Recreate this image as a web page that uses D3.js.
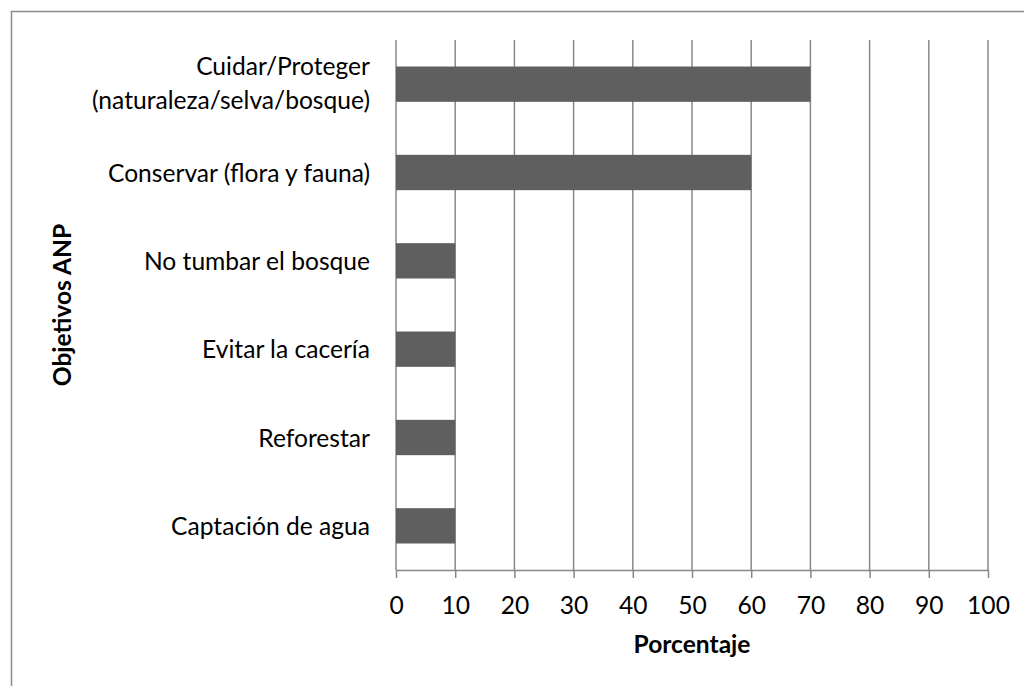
<!DOCTYPE html>
<html><head><meta charset="utf-8">
<script src="https://cdn.jsdelivr.net/npm/d3@7"></script>
<style>html,body{margin:0;padding:0;background:#fff;} svg{display:block;}</style>
</head><body>
<svg id="c" width="1024" height="686"></svg>
<script>
const categories = [
  ["Cuidar/Proteger", "(naturaleza/selva/bosque)"],
  ["Conservar (flora y fauna)"],
  ["No tumbar el bosque"],
  ["Evitar la cacería"],
  ["Reforestar"],
  ["Captación de agua"]
];
const values = [70, 60, 10, 10, 10, 10];
const xTicks = [0, 10, 20, 30, 40, 50, 60, 70, 80, 90, 100];
const xTitle = "Porcentaje";
const yTitle = "Objetivos ANP";

const FONT = "Lato, 'Open Sans', sans-serif";
const svg = d3.select("#c");

function fitSize(text, target, weight) {
  const t = svg.append("text").attr("font-family", FONT).attr("font-weight", weight||"normal")
    .attr("font-size", 100).text(text);
  const w = t.node().getComputedTextLength();
  t.remove();
  return 100 * target / w;
}
const fs = fitSize("Captación de agua", 199);
const fsB = fitSize("Porcentaje", 117, "bold");

// outer frame
svg.append("path").attr("d", "M11.5,700 L11.5,11.5 L1030,11.5")
  .attr("fill", "none").attr("stroke", "#8c8c8c").attr("stroke-width", 1.5);

const x = d3.scaleLinear().domain([0, 100]).range([396, 988]);
const y = d3.scaleBand().domain(d3.range(categories.length)).range([40, 570])
  .paddingInner(0.6).paddingOuter(0.3);

const gridColor = "#888888";
svg.append("g").selectAll("line").data(xTicks).join("line")
  .attr("x1", d => x(d)).attr("x2", d => x(d))
  .attr("y1", 40).attr("y2", 570)
  .attr("stroke", gridColor).attr("stroke-width", 1.5);

svg.append("g").selectAll("rect").data(values).join("rect")
  .attr("x", x(0)).attr("y", (d, i) => y(i))
  .attr("width", d => x(d) - x(0)).attr("height", y.bandwidth())
  .attr("fill", "#5f5f5f");

const xAxis = d3.axisBottom(x).tickValues(xTicks).tickSize(8).tickPadding(8).tickSizeOuter(0);
const gx = svg.append("g").attr("transform", "translate(0,570)").call(xAxis);
gx.select(".domain").attr("stroke", gridColor).attr("stroke-width", 1.5);
gx.selectAll(".tick line").attr("stroke", gridColor).attr("stroke-width", 1.5);
gx.selectAll(".tick text").attr("font-family", FONT).attr("font-size", fs).attr("fill", "#000")
  .attr("dy", null).attr("y", 44);

const gl = svg.append("g");
categories.forEach((lines, i) => {
  const cy = y(i) + y.bandwidth() / 2;
  const lh = 34;
  const n = lines.length;
  const t = gl.append("text").attr("text-anchor", "end").attr("font-family", FONT)
    .attr("font-size", fs).attr("fill", "#000");
  lines.forEach((ln, k) => {
    t.append("tspan").attr("x", 370).attr("y", cy + 9 + (k - (n - 1) / 2) * lh - (n > 1 ? 1 : 0)).text(ln);
  });
});

svg.append("text").attr("x", 692).attr("y", 653).attr("text-anchor", "middle")
  .attr("font-family", FONT).attr("font-weight", "bold").attr("font-size", fsB).attr("fill", "#000")
  .text(xTitle);
svg.append("text").attr("transform", "translate(71,305) rotate(-90)").attr("text-anchor", "middle")
  .attr("font-family", FONT).attr("font-weight", "bold").attr("font-size", fsB).attr("fill", "#000")
  .text(yTitle);
</script>
</body></html>
